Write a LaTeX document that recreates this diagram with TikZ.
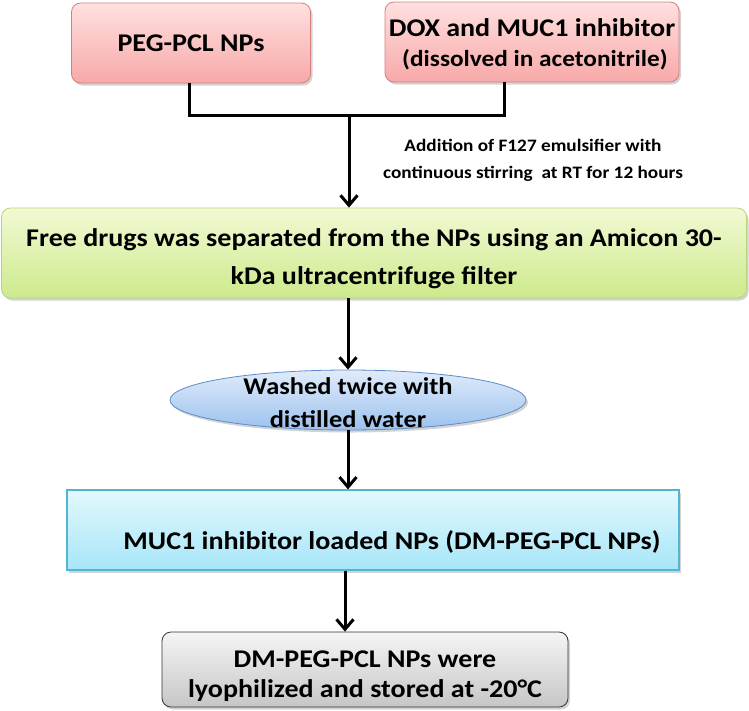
\documentclass[tikz,border=0pt]{standalone}
\usepackage{fontspec}
\setmainfont{Carlito}[FakeStretch=1.1]
\usetikzlibrary{positioning,shapes.geometric,arrows.meta,shadows}

\definecolor{pinktop}{HTML}{FFE0E0}
\definecolor{pinkbot}{HTML}{F7A9A8}
\definecolor{pinkline}{HTML}{D2807E}
\definecolor{greentop}{HTML}{F1F9D4}
\definecolor{greenbot}{HTML}{CDEA8C}
\definecolor{greenline}{HTML}{B5D57A}
\definecolor{ovaltop}{HTML}{E0EBFA}
\definecolor{ovalbot}{HTML}{9CC2EE}
\definecolor{ovalline}{HTML}{5B8CCB}
\definecolor{cyantop}{HTML}{E3F8FD}
\definecolor{cyanbot}{HTML}{A6E6F9}
\definecolor{cyanline}{HTML}{55B5D0}
\definecolor{greytop}{HTML}{F5F5F5}
\definecolor{greybot}{HTML}{C6C6C6}

\begin{document}
\begin{tikzpicture}[x=1pt,y=-1pt]

\tikzstyle{bigtext}=[font=\fontsize{25.5}{30}\selectfont\bfseries,align=center,inner sep=0pt]
\tikzstyle{shade}=[drop shadow={shadow xshift=2pt,shadow yshift=-2.5pt,opacity=0.35}]
\tikzstyle{pinkbox}=[draw=pinkline,line width=0.8pt,rounded corners=9pt,top color=pinktop,bottom color=pinkbot,shade,minimum height=80pt]
\tikzstyle{greenbox}=[draw=greenline,line width=0.8pt,rounded corners=9pt,top color=greentop,bottom color=greenbot,shade,minimum width=745pt,minimum height=90pt]
\tikzstyle{oval}=[ellipse,draw=ovalline,line width=0.8pt,top color=ovaltop,bottom color=ovalbot,shade,inner sep=0pt,minimum width=356pt,minimum height=60pt]
\tikzstyle{cyanbox}=[draw=cyanline,line width=1.2pt,top color=cyantop,bottom color=cyanbot,shade,minimum width=612pt,minimum height=80pt]
\tikzstyle{greybox}=[draw=black!80,line width=0.8pt,rounded corners=9pt,top color=greytop,bottom color=greybot,shade,minimum width=406pt,minimum height=75pt]
\tikzstyle{flow}=[line width=3pt,-{Straight Barb[length=10pt,width=17pt]}]

\useasboundingbox (0,0) rectangle (749,710);

% starting materials
\node (peg) [pinkbox,minimum width=239pt] at (191,43) {};
\node (pegtext) [bigtext] at (peg.center) {PEG-PCL NPs};
\node (dox) [pinkbox,minimum width=294pt] at (532,42) {};
\node (doxtext) [bigtext] at ([yshift=-2pt]dox.center) {DOX and MUC1 inhibitor\\ {\fontsize{23}{30}\selectfont\ (dissolved in acetonitrile)}};

\coordinate (join) at (349,115);
\draw[line width=3pt] (peg.south -| 189,0) |- (join) -| (dox.south -| 504,0);

\node (step) [font=\fontsize{17.5}{27}\selectfont\bfseries,align=center] at (533,160) {Addition of F127 emulsifier with\\continuous stirring\ \ at RT for 12 hours};

% separation
\node (filter) [greenbox] at (374,253) {};
\node (filtertext) [bigtext,font=\fontsize{25.5}{38}\selectfont\bfseries] at ([yshift=-6pt]filter.center) {Free drugs was separated from the NPs using an Amicon 30-\\kDa ultracentrifuge filter};
\draw[flow] (join) -- (join |- filter.north);

% washing
\node (wash) [oval] at (348,400) {};
\node (washtext) [bigtext,font=\fontsize{24}{33}\selectfont\bfseries] at ([yshift=-3pt]wash.center) {Washed twice with\\distilled water};
\draw[flow] (filter.south -| wash.north) -- (wash.north);

% loaded particles
\node (loaded) [cyanbox] at (373,530) {};
\node (loadedtext) [bigtext] at (392,542) {MUC1 inhibitor loaded NPs (DM-PEG-PCL NPs)};
\draw[flow] (wash.south) -- (wash.south |- loaded.north);

% storage
\node (store) [greybox] at (365,669.5) {};
\node (storetext) [bigtext] at ([yshift=-7pt]store.center) {DM-PEG-PCL NPs were\\lyophilized and stored at -20°C};
\draw[flow] (loaded.south -| 345,0) -- (store.north -| 345,0);

\end{tikzpicture}
\end{document}
